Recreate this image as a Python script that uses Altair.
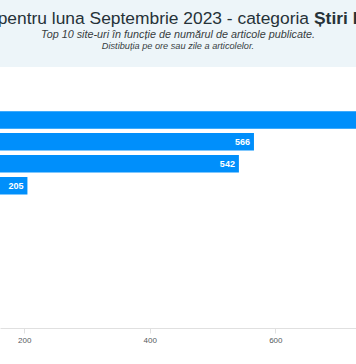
import altair as alt
import pandas as pd

# ---- data ----
sites = ["Site 1", "Site 2", "Site 3", "Site 4", "Site 5",
         "Site 6", "Site 7", "Site 8", "Site 9", "Site 10"]
articles = [790, 566, 542, 205, 148, 131, 117, 96, 84, 72]
x_ticks = [200, 400, 600]

title_main = "pentru luna Septembrie 2023 - categoria"
title_bold = "Știri Interne"
subtitle_1 = "Top 10 site-uri în funcție de numărul de articole publicate."
subtitle_2 = "Distibuția pe ore sau zile a articolelor."

# ---- layout ----
W, H = 356, 219
PAD_TOP, PAD_BOTTOM = 109, 36
FONT = "Liberation Sans"

df = pd.DataFrame({"site": sites, "articole": articles})

xscale = alt.Scale(domain=[161.3, 728.6], nice=False, zero=False)
yenc = alt.Y("site:N", sort=sites, axis=None,
             scale=alt.Scale(paddingInner=0.2, paddingOuter=0.1))

bars = alt.Chart(df).mark_bar(color="#008FFB", clip=True).encode(
    x=alt.X("articole:Q", scale=xscale, title=None,
            axis=alt.Axis(values=x_ticks, grid=False, domainColor="#e0e0e0",
                          tickColor="#e0e0e0", tickSize=5, labelPadding=3,
                          labelFontSize=8, labelColor="#555b5e", labelFont=FONT)),
    x2=alt.datum(0),
    y=yenc,
)

labels = alt.Chart(df).mark_text(
    align="right", baseline="middle", dx=-4, color="white",
    fontWeight="bold", fontSize=9, font=FONT, clip=True
).encode(
    x=alt.X("articole:Q", scale=xscale),
    y=yenc,
    text=alt.Text("articole:Q"),
)

header = alt.Chart(pd.DataFrame({"a": [0]})).mark_rect(color="#edf5f9").encode(
    x=alt.value(0), x2=alt.value(W),
    y=alt.value(-PAD_TOP), y2=alt.value(67 - PAD_TOP),
)

def txt(s, x, y, **kw):
    return alt.Chart(pd.DataFrame({"t": [s]})).mark_text(font=FONT, **kw).encode(
        text="t:N", x=alt.value(x), y=alt.value(y - PAD_TOP))

t1 = txt(title_main, 309, 24, align="right", baseline="alphabetic",
         fontSize=17.4, color="#263238")
t2 = txt(title_bold, 314, 24, align="left", baseline="alphabetic",
         fontSize=17.4, fontWeight="bold", color="#263238")
s1 = txt(subtitle_1, 178, 37.5, align="center", baseline="alphabetic",
         fontSize=10.8, fontStyle="italic", color="#373d3f")
s2 = txt(subtitle_2, 178, 48.5, align="center", baseline="alphabetic",
         fontSize=9.2, fontStyle="italic", color="#373d3f")

chart = alt.layer(header, t1, t2, s1, s2, bars, labels).properties(
    width=W, height=H,
    padding={"left": 0, "top": PAD_TOP, "right": 0, "bottom": PAD_BOTTOM},
    autosize=alt.AutoSizeParams(type="none"),
    background="white",
).configure_view(stroke=None)

chart.save("out.html", embed_options={"renderer": "svg", "actions": False})
